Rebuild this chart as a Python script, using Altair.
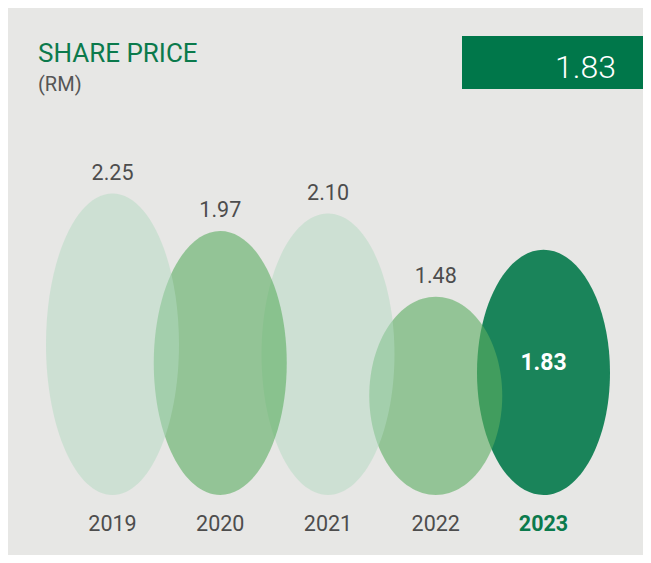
import altair as alt
import pandas as pd

# ---- data ----
years = [2019, 2020, 2021, 2022, 2023]
prices = [2.25, 1.97, 2.10, 1.48, 1.83]
fills = ["#b3d9c1", "#5bae60", "#b3d9c1", "#5bae60", "#1a845a"]
alphas = [0.5, 0.6, 0.5, 0.6, 1.0]
highlight_year = 2023
title_text = "SHARE PRICE"
unit_text = "(RM)"

# ---- layout / style ----
W, H = 635, 547
BASE_PX = 487                # pixel row of price 0 inside the view
K = 134.0                    # pixels per RM
Y_MIN, Y_MAX = -(H - BASE_PX) / K, BASE_PX / K
RX = 66.5                    # half width of each ellipse
STEP = 107.75                # pixels per year
X0 = 2019 - 104.5 / STEP
X1 = X0 + W / STEP
FONT = "Roboto, sans-serif"
GREEN = "#0b7a4c"
GREY = "#4d4d4d"
BG = "#e7e7e5"

df = pd.DataFrame({"year": years, "price": prices, "fill": fills, "alpha": alphas})
df["label"] = df["price"].map(lambda v: f"{v:.2f}")
df["year_label"] = df["year"].astype(str)

x_enc = alt.X("year:Q", scale=alt.Scale(domain=[X0, X1]), axis=None)
y_scale = alt.Scale(domain=[Y_MIN, Y_MAX])

base = alt.Chart(df).transform_calculate(
    mid="datum.price / 2",
    ry=f"datum.price * {K} / 2",
)

ellipses = base.transform_calculate(
    path=(
        f"'M-{RX},0A{RX},' + datum.ry + ' 0 1,0 {RX},0A{RX},' + datum.ry + "
        f"' 0 1,0 -{RX},0Z'"
    )
).mark_point(filled=True, size=4, strokeWidth=0).encode(
    x=x_enc,
    y=alt.Y("mid:Q", scale=y_scale, axis=None),
    shape=alt.Shape("path:N", scale=None),
    fill=alt.Fill("fill:N", scale=None),
    opacity=alt.Opacity("alpha:Q", scale=None),
    order=alt.Order("year:Q", sort="descending"),
)

value_labels = base.transform_filter(f"datum.year != {highlight_year}").mark_text(
    dy=-20, baseline="middle", fontSize=21.5, font=FONT, color=GREY
).encode(
    x=x_enc,
    y=alt.Y("price:Q", scale=y_scale, axis=None),
    text="label:N",
)

inside_label = base.transform_filter(f"datum.year == {highlight_year}").mark_text(
    dy=-9, baseline="middle", fontSize=23, font=FONT, fontWeight="bold", color="white"
).encode(
    x=x_enc,
    y=alt.Y("mid:Q", scale=y_scale, axis=None),
    text="label:N",
)

year_labels = base.transform_filter(f"datum.year != {highlight_year}").mark_text(
    baseline="middle", fontSize=21.5, font=FONT, color=GREY
).encode(x=x_enc, y=alt.value(517), text="year_label:N")

year_hl = base.transform_filter(f"datum.year == {highlight_year}").mark_text(
    baseline="middle", fontSize=21.5, font=FONT, fontWeight="bold", color=GREEN
).encode(x=x_enc, y=alt.value(517), text="year_label:N")

hdr = alt.Chart(pd.DataFrame({"t": [title_text], "u": [unit_text],
                              "v": [f"{prices[years.index(highlight_year)]:.2f}"]}))

box = hdr.mark_rect(color="#00774a").encode(
    x=alt.value(454), x2=alt.value(W), y=alt.value(28), y2=alt.value(81)
)
box_text = hdr.mark_text(align="right", baseline="alphabetic", fontSize=32,
                         font=FONT, fontWeight=300, color="white").encode(
    x=alt.value(608), y=alt.value(70), text="v:N"
)
title = hdr.mark_text(align="left", baseline="alphabetic", fontSize=26,
                      font=FONT, color=GREEN).encode(
    x=alt.value(30), y=alt.value(54), text="t:N"
)
unit = hdr.mark_text(align="left", baseline="alphabetic", fontSize=20,
                     font=FONT, color="#555555").encode(
    x=alt.value(30), y=alt.value(82.5), text="u:N"
)

chart = alt.layer(
    ellipses, value_labels, inside_label, year_labels, year_hl,
    box, box_text, title, unit
).properties(
    width=W, height=H, background=BG, padding=0,
    autosize=alt.AutoSizeParams(type="none"),
).configure_view(stroke=None)

chart.save("out.html", embed_options={"renderer": "svg", "actions": False})
